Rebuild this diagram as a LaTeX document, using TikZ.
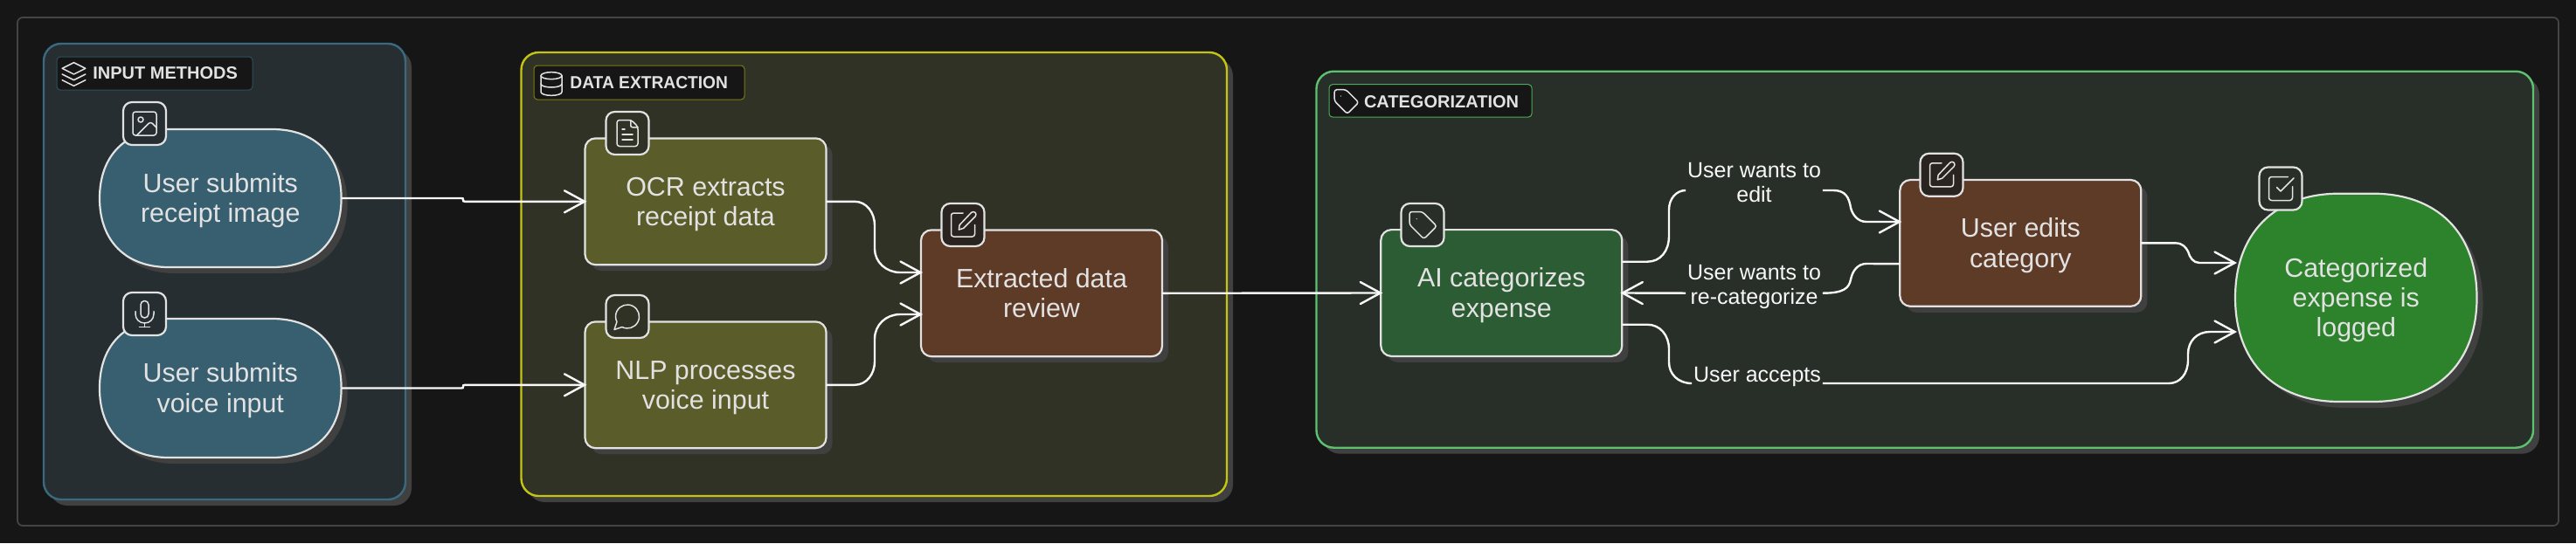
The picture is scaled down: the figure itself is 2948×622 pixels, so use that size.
\documentclass[tikz,border=0pt]{standalone}
\usepackage{fontspec}
\usepackage{graphicx}
\setmainfont{Liberation Sans}
\usetikzlibrary{arrows.meta,shadows}
\definecolor{bgc}{HTML}{161616}
\definecolor{framec}{HTML}{444444}
\definecolor{shad}{HTML}{404040}
\definecolor{txt}{HTML}{E2E2E2}
\definecolor{edgec}{HTML}{F8F8F8}
\definecolor{gafill}{HTML}{262E31}
\definecolor{gbfill}{HTML}{313226}
\definecolor{gcfill}{HTML}{282F29}
\definecolor{gastroke}{HTML}{3A6A80}
\definecolor{gbstroke}{HTML}{C4C414}
\definecolor{gcstroke}{HTML}{5DC270}
\definecolor{lastroke}{HTML}{2E4F5C}
\definecolor{lbstroke}{HTML}{7C7D12}
\definecolor{lcstroke}{HTML}{4CAB5C}
\definecolor{teal}{HTML}{375F70}
\definecolor{olive}{HTML}{5A5C29}
\definecolor{brownb}{HTML}{5E3B27}
\definecolor{greenb}{HTML}{2C5C34}
\definecolor{greenc}{HTML}{2D822C}
\definecolor{badgebr}{HTML}{2A2420}
\tikzset{
  x=0.5pt,y=-0.5pt,
  groupbox/.style={rectangle,rounded corners=10pt,line width=1.2pt,outer sep=0pt,inner sep=0pt,
    drop shadow={shadow xshift=3.5pt,shadow yshift=-3.5pt,fill=shad,opacity=1}},
  labelbox/.style={rectangle,rounded corners=2pt,line width=.5pt,fill=bgc,outer sep=0pt,inner sep=0pt},
  labeltext/.style={anchor=west,inner sep=0pt,text=txt,font=\bfseries\fontsize{10}{12}\selectfont},
  procbox/.style={rectangle,rounded corners=6pt,draw=txt,line width=1.1pt,outer sep=0pt,inner sep=0pt,
    minimum width=138pt,minimum height=72.4pt,text=txt,align=center,
    font=\fontsize{15.2}{17.2}\selectfont,
    drop shadow={shadow xshift=3.5pt,shadow yshift=-3.5pt,fill=shad,opacity=1}},
  blobtext/.style={rectangle,outer sep=0pt,inner sep=0pt,text=txt,align=center,
    font=\fontsize{15.2}{17.2}\selectfont},
  badge/.style={rectangle,rounded corners=5pt,draw=txt,line width=1.1pt,outer sep=0pt,inner sep=0pt,
    minimum width=24.5pt,minimum height=24.5pt},
  edgelabel/.style={inner sep=1pt,outer sep=0pt,fill=gcfill,text=edgec,align=center,
    font=\fontsize{12.5}{14}\selectfont},
  conn/.style={draw=edgec,line width=1.2pt,shorten >=-1pt,
    -{Straight Barb[length=11.5pt,width=12.5pt,line cap=round]}},
  plainconn/.style={draw=edgec,line width=1.2pt},
  iconline/.style={draw=txt,line width=.75pt,line cap=round,line join=round},
}
\newcommand\topa{\rule{0pt}{14.4pt}}
\newcommand\bota{\rule[-4pt]{0pt}{4pt}}
\newcommand\topb{\rule{0pt}{10pt}}
\newcommand\botb{\rule[-11pt]{0pt}{11pt}}
\newcommand\myblob[6]{%
  \def\kk{0.62}%
  \path[#6] ({#1+#5},#2) -- ({#3-#5},#2)
    .. controls ({#3-#5+\kk*#5},#2) and (#3,{#2+#5-\kk*#5}) .. (#3,{#2+#5})
    -- (#3,{#4-#5})
    .. controls (#3,{#4-#5+\kk*#5}) and ({#3-#5+\kk*#5},#4) .. ({#3-#5},#4)
    -- ({#1+#5},#4)
    .. controls ({#1+#5-\kk*#5},#4) and (#1,{#4-#5+\kk*#5}) .. (#1,{#4-#5})
    -- (#1,{#2+#5})
    .. controls (#1,{#2+#5-\kk*#5}) and ({#1+#5-\kk*#5},#2) .. ({#1+#5},#2) -- cycle;}
% #1 cx, #2 cy, #3 size of one icon unit, #4 drawing
\newcommand\myicon[4]{\begin{scope}[shift={(#1,#2)},x=#3,y=-#3,shift={(-12,-12)},iconline]#4\end{scope}}
\newcommand\icpen{%
  \draw[rounded corners=1.4pt] (12,3) -- (3,3) -- (3,21) -- (21,21) -- (21,12);
  \draw (18.4,2.6) .. controls (19.2,1.8) and (20.6,1.8) .. (21.4,2.6)
     .. controls (22.2,3.4) and (22.2,4.8) .. (21.4,5.6) -- (12.4,14.6) -- (8.9,15.7)
     -- (9.4,12.1) -- cycle;}
\newcommand\ictag{%
  \draw[rounded corners=1.4pt] (2,2) -- (11.8,2) -- (22.8,13) -- (13,22.8) -- (2,11.8) -- cycle;
  \fill[txt] (7.5,7.5) circle[radius=.4];}
\begin{document}
\begin{tikzpicture}
\useasboundingbox (0,0) rectangle (2948,622);
\fill[bgc] (0,0) rectangle (2948,622);
\draw[framec,line width=.9pt,rounded corners=3pt] (20,20) rectangle (2928,602);

% groups
\node[groupbox,draw=gastroke,fill=gafill,minimum width=207pt,minimum height=261pt] (grpa) at (257,311) {};
\node[groupbox,draw=gbstroke,fill=gbfill,minimum width=403.75pt,minimum height=254pt] (grpb) at (1000.25,314) {};
\node[groupbox,draw=gcstroke,fill=gcfill,minimum width=696.25pt,minimum height=215.5pt] (grpc) at (2202.75,297.2) {};

% group labels
\node[labelbox,draw=lastroke,minimum width=112pt,minimum height=19pt] (lbla) at (177,84) {};
\node[labeltext] (lblat) at (106,84) {INPUT METHODS};
\node[labelbox,draw=lbstroke,minimum width=120.5pt,minimum height=19.5pt] (lblb) at (731.5,94.5) {};
\node[labeltext] (lblbt) at (652,95) {\scalebox{.96}[1]{DATA EXTRACTION}};
\node[labelbox,draw=lcstroke,minimum width=116pt,minimum height=18.7pt] (lblc) at (1637,115.4) {};
\node[labeltext] (lblct) at (1560.6,116.5) {CATEGORIZATION};

% blob shapes
\myblob{121}{155}{397.6}{313}{79}{fill=shad}
\myblob{121}{372}{397.6}{531}{79}{fill=shad}
\myblob{2565}{228.7}{2841.5}{467}{119}{fill=shad}
\myblob{114}{148}{390.6}{306}{79}{fill=teal,draw=txt,line width=1.1pt}
\myblob{114}{365}{390.6}{524}{79}{fill=teal,draw=txt,line width=1.1pt}
\myblob{2558}{221.7}{2834.5}{460}{119}{fill=greenc,draw=txt,line width=1.1pt}

% nodes
\node[blobtext,minimum width=138.3pt,minimum height=79pt] (usera) at (252.3,227) {\topa User submits\\receipt image\bota};
\node[blobtext,minimum width=138.3pt,minimum height=79.5pt] (userb) at (252.3,444.5) {\topa User submits\\voice input\bota};
\node[blobtext,minimum width=138.25pt,minimum height=119pt] (logged) at (2696.25,341) {\topa Categorized\\expense is\\logged\bota};
\node[procbox,fill=olive] (ocr) at (807.5,230.8) {\topa OCR extracts\\receipt data\bota};
\node[procbox,fill=olive] (nlp) at (807.5,440.8) {\topa NLP processes\\voice input\bota};
\node[procbox,fill=brownb] (review) at (1192,335.8) {\topa Extracted data\\review\bota};
\node[procbox,fill=greenb] (aicat) at (1718.3,335.5) {\topa AI categorizes\\expense\bota};
\node[procbox,fill=brownb] (edits) at (2312.3,278.4) {\topa User edits\\category\bota};

% badges
\node[badge,fill=gafill] (bimg) at (165.5,141.5) {};
\node[badge,fill=gafill] (bmic) at (165.5,359.5) {};
\node[badge,fill=gbfill] (bfile) at (718,152.5) {};
\node[badge,fill=gbfill] (bmsg) at (718,362.5) {};
\node[badge,fill=badgebr] (bpena) at (1102,257.5) {};
\node[badge,fill=gcfill] (btag) at (1628,257.5) {};
\node[badge,fill=badgebr] (bpenb) at (2222,200.3) {};
\node[badge,fill=gcfill] (bchk) at (2610,216) {};

% icons in group labels
\myicon{84.5}{85}{.667pt}{%
  \draw (12,2) -- (22,7) -- (12,12) -- (2,7) -- cycle;
  \draw (2,12) -- (12,17) -- (22,12);
  \draw (2,17) -- (12,22) -- (22,17);}
\myicon{631}{96}{.667pt}{%
  \draw (12,5) circle[x radius=9,y radius=3];
  \draw (3,5) -- (3,19) .. controls (3,20.7) and (7,22) .. (12,22) .. controls (17,22) and (21,20.7) .. (21,19) -- (21,5);
  \draw (3,12) .. controls (3,13.7) and (7,15) .. (12,15) .. controls (17,15) and (21,13.7) .. (21,12);}
\myicon{1540.5}{116}{.667pt}{\ictag}
% icons in badges
\myicon{165.5}{141.5}{.75pt}{%
  \draw[rounded corners=1.5pt] (3,3) rectangle (21,21);
  \draw (9,9) circle[radius=2];
  \draw (21,15) -- (17.9,11.9) .. controls (17.1,11.1) and (15.9,11.1) .. (15.1,11.9) -- (6,21);}
\myicon{165.5}{359.5}{.75pt}{%
  \draw[rounded corners=2.2pt] (9,2) rectangle (15,15);
  \draw (19,10) -- (19,12) .. controls (19,16) and (16,19) .. (12,19) .. controls (8,19) and (5,16) .. (5,12) -- (5,10);
  \draw (12,19) -- (12,22);
  \draw (8,22) -- (16,22);}
\myicon{718}{152.5}{.75pt}{%
  \draw[rounded corners=1.5pt] (15,2) -- (4,2) -- (4,22) -- (20,22) -- (20,7) -- cycle;
  \draw (14.5,2) -- (14.5,6) .. controls (14.5,7) and (15,7.5) .. (16,7.5) -- (20,7.5);
  \draw (10,9) -- (8,9);
  \draw (16,13) -- (8,13);
  \draw (16,17) -- (8,17);}
\myicon{718}{362.5}{.75pt}{%
  \draw (7.9,20) arc[start angle=117.1,end angle=-207.1,radius=9] -- (2,22) -- cycle;}
\myicon{1102}{257.5}{.75pt}{\icpen}
\myicon{1628}{257.5}{.75pt}{\ictag}
\myicon{2222}{200.3}{.75pt}{\icpen}
\myicon{2610}{216}{.75pt}{%
  \draw[rounded corners=1.5pt] (21,10.5) -- (21,21) -- (3,21) -- (3,3) -- (17.5,3);
  \draw (9,11) -- (12,14) -- (22,4);}

% edge labels
\node[edgelabel] (lbledit) at (2007.5,218) {\topb User wants to\\edit\botb};
\node[edgelabel] (lblrecat) at (2007.5,335.7) {\topb User wants to\\re-categorize\botb};
\node[edgelabel] (lblacc) at (2011,431) {User accepts};

% connectors
\draw[conn] (usera.east) -- (528,227) .. controls (530,227) and (530,227.6) .. (530,228.8)
   .. controls (530,230) and (530,230.8) .. (532,230.8) -- (ocr.west);
\draw[conn] (userb.east) -- (528,444.5) .. controls (530,444.5) and (530,444) .. (530,442.8)
   .. controls (530,441.6) and (530,440.8) .. (532,440.8) -- (nlp.west);
\draw[conn] (ocr.east) -- (978,230.8) .. controls (992,230.8) and (1001,244) .. (1001,258)
   -- (1001,285) .. controls (1001,300) and (1014,312) .. (1030,312) -- ([yshift=11.9pt]review.west);
\draw[conn] (nlp.east) -- (978,440.8) .. controls (992,440.8) and (1001,428) .. (1001,414)
   -- (1001,388) .. controls (1001,372) and (1014,360) .. (1030,360) -- ([yshift=-12.1pt]review.west);
\draw[conn] (review.east) -- (aicat.west);

\draw[plainconn] ([yshift=17.9pt]aicat.east) -- (1885,299.7) .. controls (1900,299.7) and (1910,288) .. (1910,270)
   -- (1910,240) .. controls (1910,228) and (1918,218) .. (lbledit.west);
\draw[conn] (lbledit.east) -- (2098,218) .. controls (2112,218) and (2116,226) .. (2118,238)
   .. controls (2120,246) and (2126,254) .. (2136,254) -- ([yshift=12.2pt]edits.west);

\draw[plainconn] ([yshift=-11.9pt]edits.west) -- (2136,302) .. controls (2126,302) and (2120,310) .. (2118,320)
   .. controls (2116,330) and (2110,335.7) .. (lblrecat.east);
\draw[conn] (lblrecat.west) -- (aicat.east);

\draw[plainconn] ([yshift=-18.1pt]aicat.east) -- (1885,371.7) .. controls (1900,371.7) and (1910,384) .. (1910,400)
   -- (1910,415) .. controls (1910,428) and (1920,439) .. ([yshift=-4pt]lblacc.west);
\draw[conn] ([yshift=-4pt]lblacc.east) -- (2482,439) .. controls (2495,439) and (2504,428) .. (2504,412)
   -- (2504,405) .. controls (2504,391) and (2514,380) .. (2529,380) -- ([yshift=-19.5pt]logged.west);
\draw[conn] (edits.east) -- (2490,278.4) .. controls (2498,278.4) and (2502,284) .. (2504,288)
   .. controls (2506,295) and (2510,301) .. (2517,301) -- ([yshift=20pt]logged.west);
\end{tikzpicture}
\end{document}
